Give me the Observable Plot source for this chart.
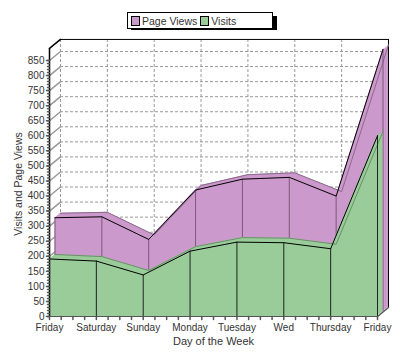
<!DOCTYPE html>
<html>
<head>
<meta charset="utf-8">
<script src="https://cdn.jsdelivr.net/npm/d3@7"></script>
<script src="https://cdn.jsdelivr.net/npm/@observablehq/plot@0.6"></script>
<style>
  body { margin: 0; background: #fff; font-family: "Liberation Sans", Arial, sans-serif; }
  #wrap { position: relative; width: 400px; height: 356px; }
  #legend { position: absolute; left: 127px; top: 12px; width: 144px; height: 15px;
            border: 1px solid #000; background: #fff; box-shadow: 4px 4px 0 #000;
            font-size: 10.5px; color: #333; display: flex; align-items: center; }
  .sw { display: inline-block; width: 7px; height: 8px; border: 1px solid #000; margin: 0 2px 0 3px; }
  #chart { position: absolute; left: 0; top: 30px; }
</style>
</head>
<body>
<div id="wrap">
  <div id="legend"></div>
  <div id="chart"></div>
</div>
<script>
// ---- data ----
const days = ["Friday", "Saturday", "Sunday", "Monday", "Tuesday", "Wed", "Thursday", "Friday"];
const pageViews = [313, 316, 241, 405, 441, 447, 385, 872];
const visits = [191, 184, 138, 217, 247, 245, 225, 600];
const seriesNames = ["Page Views", "Visits"];
const seriesColors = ["#CC99CC", "#99CC99"];
const yTicks = d3.range(0, 851, 50);

const pv = days.map((d, i) => ({i, v: pageViews[i]}));
const vs = days.map((d, i) => ({i, v: visits[i]}));

// depth offsets (pixels) of the pseudo-3D box
const DX = 11, DY = -9;

function ribbon(data, color, edge, frontEdge, f0, f1, vertColor) {
  const marks = [];
  const steps = 8;
  for (let k = steps; k >= 0; k--) {
    const f = f0 + (f1 - f0) * k / steps;
    marks.push(Plot.areaY(data, {x: "i", y: "v", fill: color, dx: DX * f, dy: DY * f}));
  }
  marks.push(Plot.lineY(data, {x: "i", y: "v", stroke: edge, strokeWidth: 1, dx: DX * f1, dy: DY * f1}));
  marks.push(Plot.ruleX(data, {x: "i", y1: 0, y2: "v", stroke: vertColor, strokeWidth: 1, dx: DX * f0, dy: DY * f0}));
  marks.push(Plot.lineY(data, {x: "i", y: "v", stroke: frontEdge, strokeWidth: 1, dx: DX * f0, dy: DY * f0}));
  return marks;
}

const diagShape = {draw(context, l) { context.moveTo(0, 0); context.lineTo(0, -l); }};
const dLen = Math.hypot(DX, DY);
const dRot = Math.atan2(DX, -DY) * 180 / Math.PI;

const chart = Plot.plot({
  width: 400,
  height: 326,
  marginLeft: 49,
  marginRight: 23,
  marginTop: 30,
  marginBottom: 40,
  style: {fontFamily: "'Liberation Sans', Arial, sans-serif", fontSize: "10px", color: "#333", background: "#fff"},
  x: {type: "linear", domain: [0, 7], axis: null},
  y: {type: "linear", domain: [0, 850], axis: null},
  marks: [
    // back wall grid
    Plot.ruleY(yTicks.slice(1), {x1: 0, x2: 7, dx: DX, dy: DY, stroke: "#999", strokeDasharray: "3,2"}),
    Plot.ruleX(d3.range(0, 7), {y1: 0, y2: 890, dx: DX, dy: DY, stroke: "#999", strokeDasharray: "3,2"}),
    Plot.ruleY([890], {x1: 0, x2: 7, dx: DX, dy: DY, stroke: "#000"}),
    Plot.ruleX([7], {y1: 0, y2: 890, dx: DX, dy: DY, stroke: "#000"}),
    // side wall diagonals
    Plot.vector(yTicks.slice(1), {x: 0, y: d => d, length: dLen, rotate: dRot, anchor: "start", shape: diagShape, stroke: "#999"}),
    Plot.vector([890], {x: 0, y: d => d, length: dLen, rotate: dRot, anchor: "start", shape: diagShape, stroke: "#000"}),
    Plot.vector([0], {x: 7, y: d => d, length: dLen, rotate: dRot, anchor: "start", shape: diagShape, stroke: "#555"}),
    // series
    ...ribbon(pv, seriesColors[0], "#8a6a8a", "#000", 0.5, 1, "#7a5a7a"),
    ...ribbon(vs, seriesColors[1], "#6a8e6a", "#000", 0, 0.5, "#222"),
    // axes
    Plot.ruleX([0], {y1: 0, y2: 890, stroke: "#000", strokeWidth: 1.5}),
    Plot.ruleY([0], {x1: 0, x2: 7, stroke: "#555"}),
    Plot.vector(yTicks, {x: 0, y: d => d, length: 3, rotate: 270, anchor: "start", shape: diagShape, stroke: "#555"}),
    Plot.vector(d3.range(0, 851, 10), {x: 0, y: d => d, length: 2, rotate: 270, anchor: "start", shape: diagShape, stroke: "#555"}),
    Plot.text(yTicks, {x: 0, y: d => d, text: d => String(d), textAnchor: "end", dx: -5, fill: "#333"}),
    Plot.text(days, {x: (d, i) => i, y: 0, text: d => d, dy: 11, fill: "#333"}),
    Plot.vector(d3.range(0, 7.01, 0.25), {x: d => d, y: 0, length: 3, rotate: 180, anchor: "start", shape: diagShape, stroke: "#555"}),
    Plot.text(["Day of the Week"], {x: 3.5, y: 0, dy: 25, fontSize: 11, fill: "#333"}),
    Plot.text(["Visits and Page Views"], {x: 0, y: 440, dx: -31, rotate: -90, fontSize: 10.5, fill: "#333"})
  ]
});
document.getElementById("chart").appendChild(chart);

const legend = document.getElementById("legend");
seriesNames.forEach((n, i) => {
  const s = document.createElement("span");
  s.className = "sw";
  s.style.background = seriesColors[i];
  legend.appendChild(s);
  legend.appendChild(document.createTextNode(n));
});
</script>
</body>
</html>
